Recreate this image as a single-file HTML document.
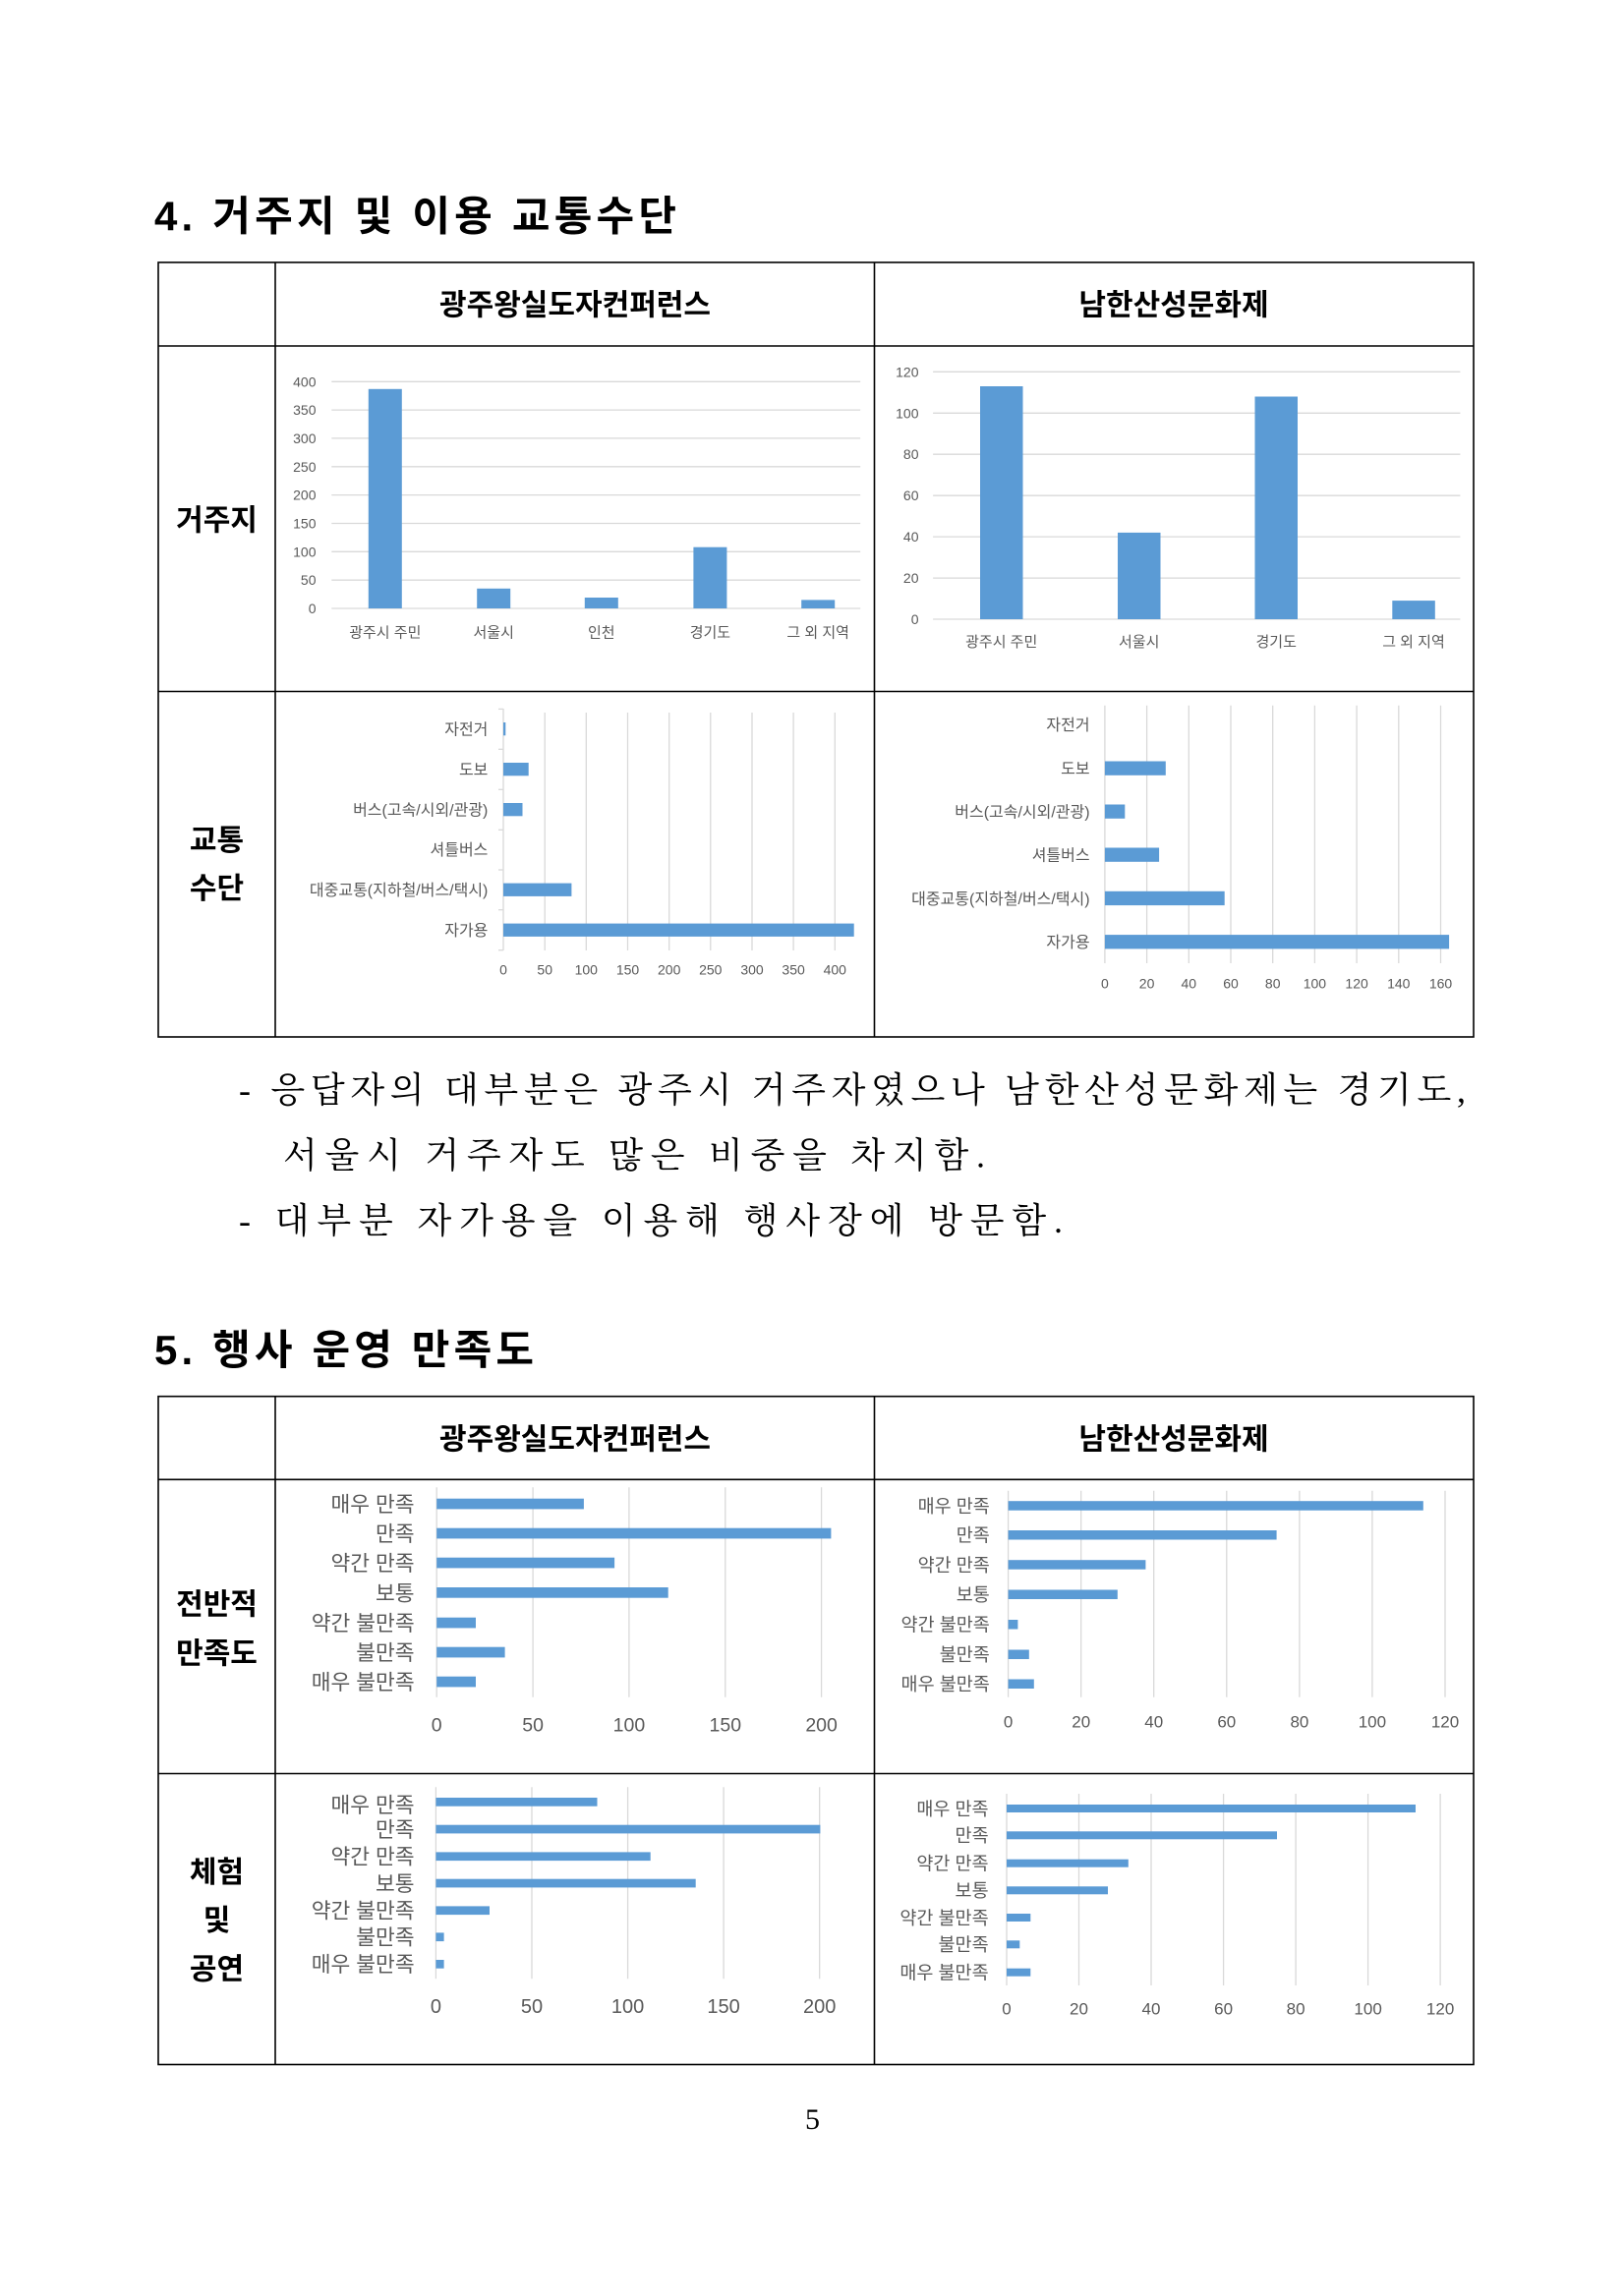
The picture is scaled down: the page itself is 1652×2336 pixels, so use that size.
<!DOCTYPE html>
<html><head><meta charset="utf-8">
<style>
html,body{margin:0;padding:0;background:#fff;}
svg{display:block;}
.h{font-family:"Liberation Sans","Noto Sans CJK KR",sans-serif;font-weight:700;fill:#000;}
.b{font-family:"Liberation Sans","Noto Sans CJK KR",sans-serif;font-weight:700;fill:#000;font-size:30px;}
.l{font-family:"Liberation Sans","Noto Sans CJK KR",sans-serif;fill:#595959;}
.s{font-family:"Liberation Serif","Noto Serif CJK KR","Noto Serif CJK SC",serif;fill:#000;font-size:36px;}
.g{stroke:#d9d9d9;stroke-width:1.3;fill:none;}
.k{stroke:#000;stroke-width:1.6;fill:none;}
.bar{fill:#5b9bd5;}
</style></head>
<body>
<svg width="1652" height="2336" viewBox="0 0 1652 2336" xmlns="http://www.w3.org/2000/svg">
<rect width="1652" height="2336" fill="#fff"/>

<!-- Title 4 -->
<text class="h" x="157" y="234.5" font-size="42" textLength="531" lengthAdjust="spacing">4. 거주지 및 이용 교통수단</text>

<!-- Table 1 -->
<rect class="k" x="161" y="267" width="1338" height="788"/>
<line class="k" x1="280" y1="267" x2="280" y2="1055"/>
<line class="k" x1="889.5" y1="267" x2="889.5" y2="1055"/>
<line class="k" x1="161" y1="352" x2="1499" y2="352"/>
<line class="k" x1="161" y1="703.5" x2="1499" y2="703.5"/>
<text class="b" x="585" y="320.5" text-anchor="middle">광주왕실도자컨퍼런스</text>
<text class="b" x="1194" y="320.5" text-anchor="middle">남한산성문화제</text>
<text class="b" x="220.5" y="539.5" text-anchor="middle">거주지</text>
<text class="b" x="220.5" y="864.8" text-anchor="middle">교통</text>
<text class="b" x="220.5" y="914" text-anchor="middle">수단</text>

<!-- Chart 1 -->
<g class="g">
<line x1="337.3" y1="619" x2="875.2" y2="619"/>
<line x1="337.3" y1="590.2" x2="875.2" y2="590.2"/>
<line x1="337.3" y1="561.3" x2="875.2" y2="561.3"/>
<line x1="337.3" y1="532.5" x2="875.2" y2="532.5"/>
<line x1="337.3" y1="503.6" x2="875.2" y2="503.6"/>
<line x1="337.3" y1="474.8" x2="875.2" y2="474.8"/>
<line x1="337.3" y1="445.9" x2="875.2" y2="445.9"/>
<line x1="337.3" y1="417.1" x2="875.2" y2="417.1"/>
<line x1="337.3" y1="388.3" x2="875.2" y2="388.3"/>
</g>
<g class="l" font-size="14" text-anchor="end">
<text x="321.5" y="624">0</text>
<text x="321.5" y="595.2">50</text>
<text x="321.5" y="566.3">100</text>
<text x="321.5" y="537.5">150</text>
<text x="321.5" y="508.6">200</text>
<text x="321.5" y="479.8">250</text>
<text x="321.5" y="450.9">300</text>
<text x="321.5" y="422.1">350</text>
<text x="321.5" y="393.3">400</text>
</g>
<rect class="bar" x="374.8" y="395.8" width="34" height="223.2"/>
<rect class="bar" x="485.2" y="598.8" width="34" height="20.2"/>
<rect class="bar" x="594.8" y="608" width="34" height="11"/>
<rect class="bar" x="705.4" y="556.7" width="34" height="62.3"/>
<rect class="bar" x="815.2" y="610.4" width="34" height="8.6"/>
<g class="l" font-size="15" text-anchor="middle">
<text x="391.8" y="648.5">광주시 주민</text>
<text x="502.2" y="648.5">서울시</text>
<text x="611.8" y="648.5">인천</text>
<text x="722.4" y="648.5">경기도</text>
<text x="832.2" y="648.5">그 외 지역</text>
</g>

<!-- Chart 2 -->
<g class="g">
<line x1="949.1" y1="630" x2="1485.4" y2="630"/>
<line x1="949.1" y1="588.1" x2="1485.4" y2="588.1"/>
<line x1="949.1" y1="546.1" x2="1485.4" y2="546.1"/>
<line x1="949.1" y1="504.2" x2="1485.4" y2="504.2"/>
<line x1="949.1" y1="462.2" x2="1485.4" y2="462.2"/>
<line x1="949.1" y1="420.3" x2="1485.4" y2="420.3"/>
<line x1="949.1" y1="378.3" x2="1485.4" y2="378.3"/>
</g>
<g class="l" font-size="14" text-anchor="end">
<text x="934.5" y="635">0</text>
<text x="934.5" y="593.1">20</text>
<text x="934.5" y="551.1">40</text>
<text x="934.5" y="509.2">60</text>
<text x="934.5" y="467.2">80</text>
<text x="934.5" y="425.3">100</text>
<text x="934.5" y="383.3">120</text>
</g>
<rect class="bar" x="997" y="393" width="43.5" height="237"/>
<rect class="bar" x="1137" y="541.9" width="43.5" height="88.1"/>
<rect class="bar" x="1276.5" y="403.5" width="43.5" height="226.5"/>
<rect class="bar" x="1416.3" y="611.1" width="43.5" height="18.9"/>
<g class="l" font-size="15" text-anchor="middle">
<text x="1018.7" y="658">광주시 주민</text>
<text x="1158.7" y="658">서울시</text>
<text x="1298.2" y="658">경기도</text>
<text x="1438" y="658">그 외 지역</text>
</g>

<!-- Chart 3 -->
<g class="g">
<line x1="512" y1="721" x2="512" y2="967"/>
<line x1="554.2" y1="725" x2="554.2" y2="967"/>
<line x1="596.3" y1="725" x2="596.3" y2="967"/>
<line x1="638.5" y1="725" x2="638.5" y2="967"/>
<line x1="680.7" y1="725" x2="680.7" y2="967"/>
<line x1="722.8" y1="725" x2="722.8" y2="967"/>
<line x1="765" y1="725" x2="765" y2="967"/>
<line x1="807.1" y1="725" x2="807.1" y2="967"/>
<line x1="849.3" y1="725" x2="849.3" y2="967"/>
<line x1="507" y1="721.4" x2="512" y2="721.4"/>
<line x1="507" y1="762.3" x2="512" y2="762.3"/>
<line x1="507" y1="803.3" x2="512" y2="803.3"/>
<line x1="507" y1="844.3" x2="512" y2="844.3"/>
<line x1="507" y1="885" x2="512" y2="885"/>
<line x1="507" y1="925.7" x2="512" y2="925.7"/>
<line x1="507" y1="966.7" x2="512" y2="966.7"/>
</g>
<rect class="bar" x="512" y="735" width="2.3" height="13.3"/>
<rect class="bar" x="512" y="776" width="25.7" height="13.3"/>
<rect class="bar" x="512" y="817" width="19.5" height="13.3"/>
<rect class="bar" x="512" y="898.6" width="69.4" height="13.3"/>
<rect class="bar" x="512" y="939.6" width="356.7" height="13.3"/>
<g class="l" font-size="16" text-anchor="end">
<text x="496.4" y="747.5">자전거</text>
<text x="496.4" y="788.5">도보</text>
<text x="496.4" y="829.5">버스(고속/시외/관광)</text>
<text x="496.4" y="870.1">셔틀버스</text>
<text x="496.4" y="911.1">대중교통(지하철/버스/택시)</text>
<text x="496.4" y="952.1">자가용</text>
</g>
<g class="l" font-size="14" text-anchor="middle">
<text x="512" y="991.7">0</text>
<text x="554.2" y="991.7">50</text>
<text x="596.3" y="991.7">100</text>
<text x="638.5" y="991.7">150</text>
<text x="680.7" y="991.7">200</text>
<text x="722.8" y="991.7">250</text>
<text x="765" y="991.7">300</text>
<text x="807.1" y="991.7">350</text>
<text x="849.3" y="991.7">400</text>
</g>

<!-- Chart 4 -->
<g class="g">
<line x1="1123.9" y1="717.7" x2="1123.9" y2="980"/>
<line x1="1166.6" y1="717.7" x2="1166.6" y2="980"/>
<line x1="1209.3" y1="717.7" x2="1209.3" y2="980"/>
<line x1="1252" y1="717.7" x2="1252" y2="980"/>
<line x1="1294.7" y1="717.7" x2="1294.7" y2="980"/>
<line x1="1337.4" y1="717.7" x2="1337.4" y2="980"/>
<line x1="1380.1" y1="717.7" x2="1380.1" y2="980"/>
<line x1="1422.8" y1="717.7" x2="1422.8" y2="980"/>
<line x1="1465.5" y1="717.7" x2="1465.5" y2="980"/>
</g>
<rect class="bar" x="1123.9" y="774.5" width="61.9" height="14.3"/>
<rect class="bar" x="1123.9" y="818.5" width="20.4" height="14.3"/>
<rect class="bar" x="1123.9" y="862.5" width="55.2" height="14.3"/>
<rect class="bar" x="1123.9" y="906.8" width="121.8" height="14.3"/>
<rect class="bar" x="1123.9" y="951.1" width="350.2" height="14.3"/>
<g class="l" font-size="16" text-anchor="end">
<text x="1108.6" y="743.1">자전거</text>
<text x="1108.6" y="787.5">도보</text>
<text x="1108.6" y="831.5">버스(고속/시외/관광)</text>
<text x="1108.6" y="875.5">셔틀버스</text>
<text x="1108.6" y="919.8">대중교통(지하철/버스/택시)</text>
<text x="1108.6" y="964.1">자가용</text>
</g>
<g class="l" font-size="14" text-anchor="middle">
<text x="1123.9" y="1005.7">0</text>
<text x="1166.6" y="1005.7">20</text>
<text x="1209.3" y="1005.7">40</text>
<text x="1252" y="1005.7">60</text>
<text x="1294.7" y="1005.7">80</text>
<text x="1337.4" y="1005.7">100</text>
<text x="1380.1" y="1005.7">120</text>
<text x="1422.8" y="1005.7">140</text>
<text x="1465.5" y="1005.7">160</text>
</g>

<!-- Paragraph -->
<text class="s" x="243" y="1120.8" textLength="1248" lengthAdjust="spacing">- 응답자의 대부분은 광주시 거주자였으나 남한산성문화제는 경기도,</text>
<text class="s" x="288" y="1187.5" textLength="714" lengthAdjust="spacing">서울시 거주자도 많은 비중을 차지함.</text>
<text class="s" x="243" y="1254" textLength="838" lengthAdjust="spacing">- 대부분 자가용을 이용해 행사장에 방문함.</text>

<!-- Title 5 -->
<text class="h" x="157" y="1388" font-size="42" textLength="386" lengthAdjust="spacing">5. 행사 운영 만족도</text>

<!-- Table 2 -->
<rect class="k" x="161" y="1420.7" width="1338" height="679.8"/>
<line class="k" x1="280" y1="1420.7" x2="280" y2="2100.5"/>
<line class="k" x1="889.5" y1="1420.7" x2="889.5" y2="2100.5"/>
<line class="k" x1="161" y1="1505.3" x2="1499" y2="1505.3"/>
<line class="k" x1="161" y1="1804.5" x2="1499" y2="1804.5"/>
<text class="b" x="585" y="1474.5" text-anchor="middle">광주왕실도자컨퍼런스</text>
<text class="b" x="1194" y="1474.5" text-anchor="middle">남한산성문화제</text>
<text class="b" x="220.5" y="1642.5" text-anchor="middle">전반적</text>
<text class="b" x="220.5" y="1692.5" text-anchor="middle">만족도</text>
<text class="b" x="220.5" y="1915" text-anchor="middle">체험</text>
<text class="b" x="220.5" y="1964" text-anchor="middle">및</text>
<text class="b" x="220.5" y="2013.6" text-anchor="middle">공연</text>

<!-- Chart 5 -->
<g class="g">
<line x1="444.2" y1="1513.3" x2="444.2" y2="1726.7"/>
<line x1="542.1" y1="1513.3" x2="542.1" y2="1726.7"/>
<line x1="639.9" y1="1513.3" x2="639.9" y2="1726.7"/>
<line x1="737.8" y1="1513.3" x2="737.8" y2="1726.7"/>
<line x1="835.6" y1="1513.3" x2="835.6" y2="1726.7"/>
</g>
<rect class="bar" x="444.2" y="1524.7" width="149.7" height="10.7"/>
<rect class="bar" x="444.2" y="1554.7" width="401.2" height="10.7"/>
<rect class="bar" x="444.2" y="1584.7" width="180.9" height="10.7"/>
<rect class="bar" x="444.2" y="1615" width="235.5" height="10.7"/>
<rect class="bar" x="444.2" y="1645.7" width="39.8" height="10.7"/>
<rect class="bar" x="444.2" y="1675.7" width="69.4" height="10.7"/>
<rect class="bar" x="444.2" y="1705.7" width="39.8" height="10.7"/>
<g class="l" font-size="21.5" text-anchor="end">
<text x="421.6" y="1538">매우 만족</text>
<text x="421.6" y="1568">만족</text>
<text x="421.6" y="1598">약간 만족</text>
<text x="421.6" y="1628.3">보통</text>
<text x="421.6" y="1659">약간 불만족</text>
<text x="421.6" y="1689">불만족</text>
<text x="421.6" y="1719">매우 불만족</text>
</g>
<g class="l" font-size="19.5" text-anchor="middle">
<text x="444.2" y="1761.3">0</text>
<text x="542.1" y="1761.3">50</text>
<text x="639.9" y="1761.3">100</text>
<text x="737.8" y="1761.3">150</text>
<text x="835.6" y="1761.3">200</text>
</g>

<!-- Chart 6 -->
<g class="g">
<line x1="1025.6" y1="1516.7" x2="1025.6" y2="1726.7"/>
<line x1="1099.7" y1="1516.7" x2="1099.7" y2="1726.7"/>
<line x1="1173.7" y1="1516.7" x2="1173.7" y2="1726.7"/>
<line x1="1247.8" y1="1516.7" x2="1247.8" y2="1726.7"/>
<line x1="1321.9" y1="1516.7" x2="1321.9" y2="1726.7"/>
<line x1="1395.9" y1="1516.7" x2="1395.9" y2="1726.7"/>
<line x1="1470" y1="1516.7" x2="1470" y2="1726.7"/>
</g>
<rect class="bar" x="1025.6" y="1527.2" width="422.2" height="9.5"/>
<rect class="bar" x="1025.6" y="1557" width="273" height="9.5"/>
<rect class="bar" x="1025.6" y="1587.2" width="139.8" height="9.5"/>
<rect class="bar" x="1025.6" y="1617.5" width="111.2" height="9.5"/>
<rect class="bar" x="1025.6" y="1648" width="9.8" height="9.5"/>
<rect class="bar" x="1025.6" y="1678.5" width="21.2" height="9.5"/>
<rect class="bar" x="1025.6" y="1708.5" width="26.2" height="9.5"/>
<g class="l" font-size="18.5" text-anchor="end">
<text x="1006.8" y="1538.8">매우 만족</text>
<text x="1006.8" y="1568.5">만족</text>
<text x="1006.8" y="1598.8">약간 만족</text>
<text x="1006.8" y="1629">보통</text>
<text x="1006.8" y="1659.5">약간 불만족</text>
<text x="1006.8" y="1690">불만족</text>
<text x="1006.8" y="1720">매우 불만족</text>
</g>
<g class="l" font-size="17" text-anchor="middle">
<text x="1025.6" y="1757.7">0</text>
<text x="1099.7" y="1757.7">20</text>
<text x="1173.7" y="1757.7">40</text>
<text x="1247.8" y="1757.7">60</text>
<text x="1321.9" y="1757.7">80</text>
<text x="1395.9" y="1757.7">100</text>
<text x="1470" y="1757.7">120</text>
</g>

<!-- Chart 7 -->
<g class="g">
<line x1="443.4" y1="1818.3" x2="443.4" y2="2013.3"/>
<line x1="541" y1="1818.3" x2="541" y2="2013.3"/>
<line x1="638.6" y1="1818.3" x2="638.6" y2="2013.3"/>
<line x1="736.1" y1="1818.3" x2="736.1" y2="2013.3"/>
<line x1="833.7" y1="1818.3" x2="833.7" y2="2013.3"/>
</g>
<rect class="bar" x="443.4" y="1829" width="164.1" height="8.7"/>
<rect class="bar" x="443.4" y="1856.7" width="391" height="8.7"/>
<rect class="bar" x="443.4" y="1884.4" width="218.3" height="8.7"/>
<rect class="bar" x="443.4" y="1911.7" width="264.3" height="8.7"/>
<rect class="bar" x="443.4" y="1939.4" width="54.6" height="8.7"/>
<rect class="bar" x="443.4" y="1966.4" width="8.2" height="8.7"/>
<rect class="bar" x="443.4" y="1994" width="8.2" height="8.7"/>
<g class="l" font-size="21.5" text-anchor="end">
<text x="421.6" y="1843.8">매우 만족</text>
<text x="421.6" y="1869">만족</text>
<text x="421.6" y="1896.5">약간 만족</text>
<text x="421.6" y="1923.8">보통</text>
<text x="421.6" y="1951.5">약간 불만족</text>
<text x="421.6" y="1978.5">불만족</text>
<text x="421.6" y="2006">매우 불만족</text>
</g>
<g class="l" font-size="20" text-anchor="middle">
<text x="443.4" y="2048">0</text>
<text x="541" y="2048">50</text>
<text x="638.6" y="2048">100</text>
<text x="736.1" y="2048">150</text>
<text x="833.7" y="2048">200</text>
</g>

<!-- Chart 8 -->
<g class="g">
<line x1="1024" y1="1825" x2="1024" y2="2020"/>
<line x1="1097.5" y1="1825" x2="1097.5" y2="2020"/>
<line x1="1171" y1="1825" x2="1171" y2="2020"/>
<line x1="1244.6" y1="1825" x2="1244.6" y2="2020"/>
<line x1="1318.1" y1="1825" x2="1318.1" y2="2020"/>
<line x1="1391.6" y1="1825" x2="1391.6" y2="2020"/>
<line x1="1465.1" y1="1825" x2="1465.1" y2="2020"/>
</g>
<rect class="bar" x="1024" y="1836" width="416" height="8"/>
<rect class="bar" x="1024" y="1863.3" width="275" height="8"/>
<rect class="bar" x="1024" y="1891.7" width="123.8" height="8"/>
<rect class="bar" x="1024" y="1919.3" width="103" height="8"/>
<rect class="bar" x="1024" y="1947" width="24.3" height="8"/>
<rect class="bar" x="1024" y="1974.3" width="13.3" height="8"/>
<rect class="bar" x="1024" y="2002.7" width="24.3" height="8"/>
<g class="l" font-size="18.5" text-anchor="end">
<text x="1005.6" y="1846.8">매우 만족</text>
<text x="1005.6" y="1874">만족</text>
<text x="1005.6" y="1902.5">약간 만족</text>
<text x="1005.6" y="1930">보통</text>
<text x="1005.6" y="1957.8">약간 불만족</text>
<text x="1005.6" y="1985">불만족</text>
<text x="1005.6" y="2013.5">매우 불만족</text>
</g>
<g class="l" font-size="17" text-anchor="middle">
<text x="1024" y="2049.3">0</text>
<text x="1097.5" y="2049.3">20</text>
<text x="1171" y="2049.3">40</text>
<text x="1244.6" y="2049.3">60</text>
<text x="1318.1" y="2049.3">80</text>
<text x="1391.6" y="2049.3">100</text>
<text x="1465.1" y="2049.3">120</text>
</g>

<!-- Page number -->
<text x="826.5" y="2166" font-family="'Liberation Serif',serif" font-size="30" text-anchor="middle" fill="#000">5</text>
</svg>
</body></html>
